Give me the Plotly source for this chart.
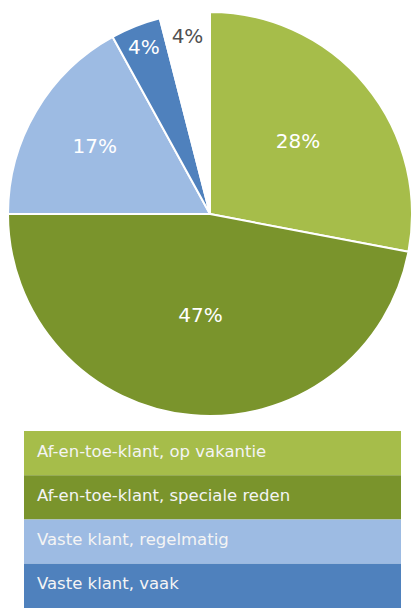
import plotly.graph_objects as go

categories = ["Af-en-toe-klant, op vakantie", "Af-en-toe-klant, speciale reden",
              "Vaste klant, regelmatig", "Vaste klant, vaak", "Overig"]
values = [28, 47, 17, 4, 4]
colors = ["#A6BD4A", "#7A942C", "#9DBBE3", "#4F81BD", "#FFFFFF"]
text_colors = ["#FFFFFF", "#FFFFFF", "#FFFFFF", "#FFFFFF", "#505050"]
legend_items = categories[:4]

W, H = 412, 608
FONT = "DejaVu Sans, Verdana, sans-serif"

fig = go.Figure(go.Pie(
    labels=categories, values=values, sort=False, direction="clockwise",
    rotation=0,
    marker=dict(colors=colors, line=dict(color="white", width=2)),
    texttemplate="%{percent:.0%}", textposition="inside",
    insidetextorientation="horizontal",
    textfont=dict(family=FONT, size=20, color=text_colors),
    domain=dict(x=[8 / W, 1], y=[1 - 416 / H, 1 - 12 / H]),
    showlegend=False, hoverinfo="label+percent",
))

# custom legend: coloured bars with white text
top, bottom, left, right = 431, 608, 24, 401
h = (bottom - top) / len(legend_items)
shapes, annotations = [], []
for i, name in enumerate(legend_items):
    y0 = top + i * h
    y1 = y0 + h
    shapes.append(dict(type="rect", xref="paper", yref="paper",
                       x0=left / W, x1=right / W, y0=1 - y1 / H, y1=1 - y0 / H,
                       fillcolor=colors[i], line=dict(width=0), layer="below"))
    annotations.append(dict(xref="paper", yref="paper", x=35 / W, y=1 - (y0 + h / 2 - 2) / H,
                            xanchor="left", yanchor="middle", showarrow=False,
                            text=name, font=dict(family=FONT, size=16.5, color="#F4F4F4")))

fig.update_layout(width=W, height=H, margin=dict(l=0, r=0, t=0, b=0),
                  paper_bgcolor="white", plot_bgcolor="white",
                  shapes=shapes, annotations=annotations)
fig.write_html("out.html", config={"displayModeBar": False},
               post_script="document.body.style.margin='0';")
